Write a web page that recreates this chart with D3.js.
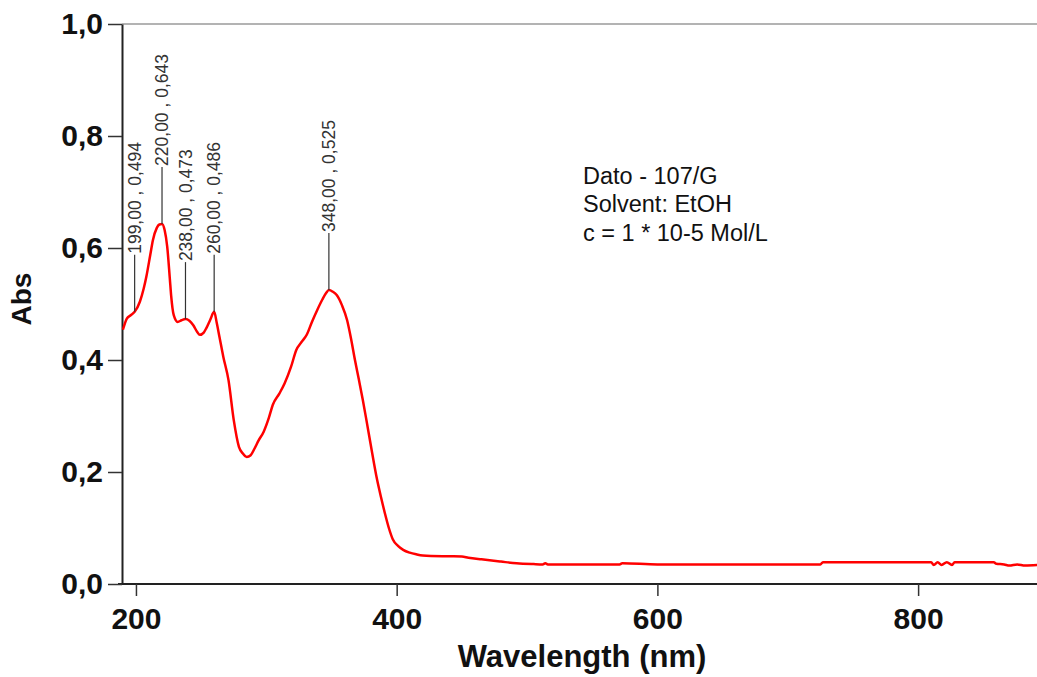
<!DOCTYPE html>
<html>
<head>
<meta charset="utf-8">
<script src="https://cdn.jsdelivr.net/npm/d3@7"></script>
<style>
  body { margin: 0; background: #fff; }
  text { font-family: "Liberation Sans", Arial, sans-serif; }
</style>
</head>
<body>
<div id="chart"></div>
<script>
// UV-Vis spectrum, values
var wavelengths = [190, 193, 196, 199, 203, 206, 208, 211, 213, 216, 218, 220, 222, 224, 226, 227, 229, 232, 235, 238,
  241, 244, 247, 249, 252, 254, 257, 260, 262, 264, 267, 271, 275, 279, 282, 285, 288, 291, 294, 298,
  302, 305, 310, 314, 319, 323, 327, 331, 335, 339, 343, 346, 348, 351, 354, 358, 362, 365, 368, 371,
  374, 377, 380, 385, 388, 391, 394, 397, 401, 405, 410, 415, 420, 440, 450, 455, 465, 480, 492, 505,
  512, 514, 516, 571, 573, 600, 725, 727, 810, 812, 815, 818, 822, 826, 828, 858, 860, 866, 870, 876,
  882, 892];
var absorbance = [0.454, 0.474, 0.480, 0.486, 0.504, 0.528, 0.549, 0.588, 0.614, 0.636, 0.642, 0.643, 0.632, 0.602, 0.545, 0.515, 0.480, 0.468, 0.471, 0.473,
  0.470, 0.462, 0.450, 0.445, 0.449, 0.457, 0.472, 0.486, 0.466, 0.442, 0.406, 0.364, 0.293, 0.245, 0.233, 0.227, 0.230, 0.242, 0.256, 0.272,
  0.297, 0.320, 0.340, 0.358, 0.388, 0.418, 0.432, 0.445, 0.468, 0.489, 0.508, 0.520, 0.525, 0.522, 0.516, 0.498, 0.471, 0.438, 0.400, 0.365,
  0.329, 0.290, 0.250, 0.186, 0.155, 0.126, 0.100, 0.080, 0.068, 0.061, 0.056, 0.053, 0.051, 0.0495, 0.049, 0.047, 0.044, 0.040, 0.037, 0.0355,
  0.035, 0.037, 0.035, 0.035, 0.037, 0.035, 0.035, 0.039, 0.039, 0.034, 0.039, 0.034, 0.039, 0.034, 0.039, 0.039, 0.036, 0.035, 0.033, 0.035,
  0.033, 0.034];

// marked peaks
var peakWavelengths = [199, 220, 238, 260, 348];
var peakLabels = ['199,00 , 0,494', '220,00 , 0,643', '238,00 , 0,473', '260,00 , 0,486', '348,00 , 0,525'];

var xTicks = [200, 400, 600, 800];
var yTicks = [0, 0.2, 0.4, 0.6, 0.8, 1.0];

var noteLines = ['Dato - 107/G', 'Solvent: EtOH', 'c = 1 * 10-5 Mol/L'];

(function () {
  'use strict';

  var width = 1037, height = 677;
  var plot = {left: 122, right: 1037, top: 24, bottom: 584};

  var svg = d3.select('#chart').append('svg')
    .attr('width', width)
    .attr('height', height);

  var x = d3.scaleLinear().domain([189.3, 891.2]).range([plot.left, plot.right]);
  var y = d3.scaleLinear().domain([0, 1]).range([plot.bottom, plot.top]);

  var comma = d3.formatLocale({decimal: ',', thousands: '.', grouping: [3], currency: ['', '']});
  var fmt = comma.format('.1f');

  var data = wavelengths.map(function (w, i) { return {w: w, a: absorbance[i]}; });

  svg.append('clipPath').attr('id', 'clip')
    .append('rect')
    .attr('x', plot.left).attr('y', plot.top)
    .attr('width', plot.right - plot.left).attr('height', plot.bottom - plot.top);

  // top frame line
  svg.append('line')
    .attr('x1', plot.left).attr('x2', plot.right)
    .attr('y1', plot.top).attr('y2', plot.top)
    .attr('stroke', '#9a9a9a').attr('stroke-width', 1.5);

  // axes
  var xAxis = svg.append('g')
    .attr('transform', 'translate(0,' + plot.bottom + ')')
    .call(d3.axisBottom(x).tickValues(xTicks).tickSize(12).tickSizeOuter(0).tickPadding(12).tickFormat(d3.format('d')));
  xAxis.select('.domain').attr('stroke', '#222').attr('stroke-width', 2)
    .attr('d', 'M' + (plot.left - 4) + ',0H' + plot.right);
  xAxis.selectAll('.tick line').attr('stroke', '#333').attr('stroke-width', 1.5);
  xAxis.selectAll('.tick text')
    .attr('fill', '#111')
    .style('font-size', '30px').style('font-weight', 'bold');

  var yAxis = svg.append('g')
    .attr('transform', 'translate(' + plot.left + ',0)')
    .call(d3.axisLeft(y).tickValues(yTicks).tickSize(14).tickSizeOuter(0).tickPadding(5).tickFormat(fmt));
  yAxis.select('.domain').attr('stroke', '#222').attr('stroke-width', 2);
  yAxis.selectAll('.tick line').attr('stroke', '#333').attr('stroke-width', 1.5);
  yAxis.selectAll('.tick text')
    .attr('fill', '#111')
    .style('font-size', '30px').style('font-weight', 'bold');

  // axis titles
  svg.append('text')
    .attr('x', 582).attr('y', 667)
    .attr('text-anchor', 'middle')
    .style('font-size', '31px').style('font-weight', 'bold')
    .attr('fill', '#111')
    .text('Wavelength (nm)');

  svg.append('text')
    .attr('transform', 'translate(31,299) rotate(-90)')
    .attr('text-anchor', 'middle')
    .style('font-size', '28px').style('font-weight', 'bold')
    .attr('fill', '#111')
    .text('Abs');

  // spectrum
  var line = d3.line()
    .curve(d3.curveMonotoneX)
    .x(function (d) { return x(d.w); })
    .y(function (d) { return y(d.a); });

  svg.append('path')
    .datum(data)
    .attr('clip-path', 'url(#clip)')
    .attr('fill', 'none')
    .attr('stroke', '#ff0000')
    .attr('stroke-width', 2.5)
    .attr('stroke-linejoin', 'round')
    .attr('d', line);

  // peak markers
  var stem = 57;
  var peaks = peakWavelengths.map(function (w, i) {
    var pt = data.find(function (d) { return d.w === w; });
    return {w: w, a: pt.a, label: peakLabels[i]};
  });

  var pk = svg.append('g').selectAll('g')
    .data(peaks)
    .enter().append('g')
    .attr('transform', function (d) { return 'translate(' + x(d.w) + ',' + y(d.a) + ')'; });

  pk.append('line')
    .attr('x1', 0).attr('x2', 0)
    .attr('y1', 0).attr('y2', -stem)
    .attr('stroke', '#333').attr('stroke-width', 1.2);

  pk.append('text')
    .attr('transform', 'translate(0,' + (-stem - 1) + ') rotate(-90)')
    .attr('dy', '0.35em')
    .attr('fill', '#333')
    .style('font-size', '17.5px')
    .text(function (d) { return d.label; });

  // note text
  svg.append('g').selectAll('text')
    .data(noteLines)
    .enter().append('text')
    .attr('x', 583)
    .attr('y', function (d, i) { return 184 + i * 28.3; })
    .attr('fill', '#111')
    .style('font-size', '23.5px')
    .text(function (d) { return d; });
})();
</script>
</body>
</html>
